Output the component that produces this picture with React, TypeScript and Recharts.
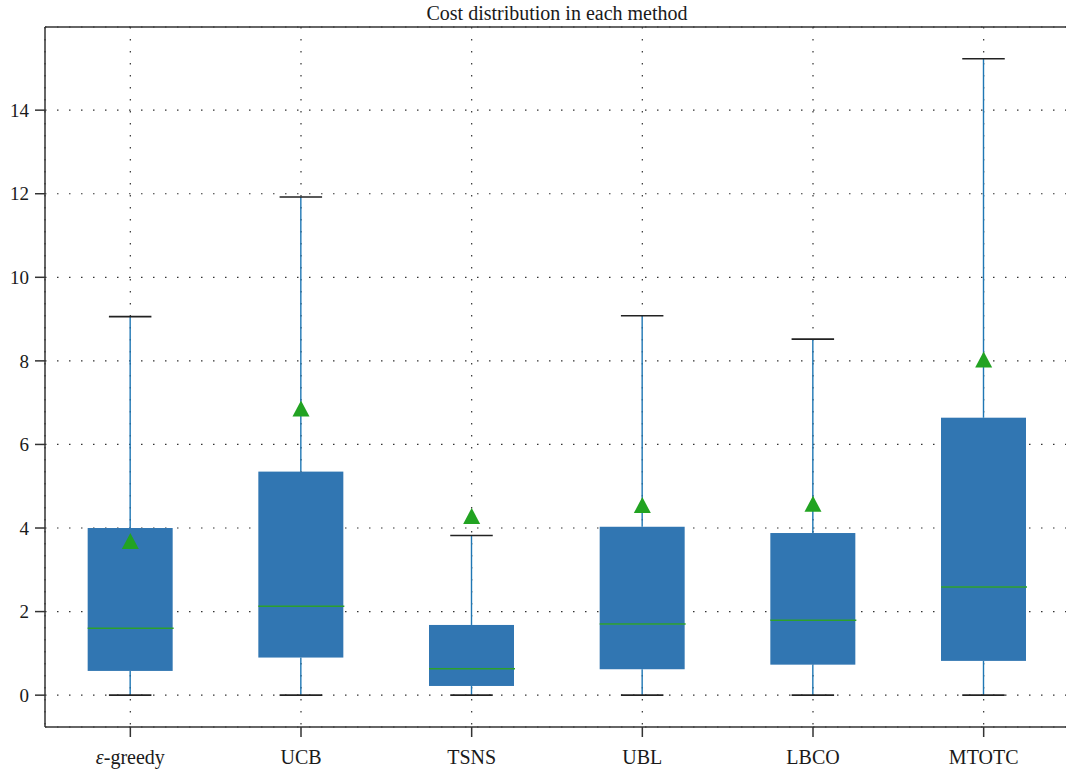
import React from 'react';
import { ComposedChart, Bar, Scatter, XAxis, YAxis, CartesianGrid, ReferenceLine } from 'recharts';

// Per-method cost statistics (whisker low/high, quartiles, median, mean)
const methods = ['ε-greedy', 'UCB', 'TSNS', 'UBL', 'LBCO', 'MTOTC'];
const whiskerLow = [0, 0, 0, 0, 0, 0];
const q1 = [0.58, 0.9, 0.22, 0.62, 0.73, 0.82];
const median = [1.6, 2.13, 0.63, 1.7, 1.79, 2.59];
const q3 = [4.0, 5.35, 1.68, 4.03, 3.88, 6.64];
const whiskerHigh = [9.06, 11.92, 3.82, 9.08, 8.52, 15.23];
const means = [3.69, 6.86, 4.29, 4.55, 4.58, 8.03];

const yTicks = [0, 2, 4, 6, 8, 10, 12, 14];
const Y_MIN = -0.762;
const Y_MAX = 15.99;

const BOX_FILL = '#3176b2';
const WHISKER = '#1f77b4';
const CAP = '#222';
const GREEN = '#2ca02c';
const AXIS = '#333';
const FONT = '"Liberation Serif", "DejaVu Serif", serif';

// stacked segments: base -> lower whisker -> box below median -> box above median -> upper whisker
const data = methods.map((name, i) => ({
  name,
  base: whiskerLow[i],
  lowWhisker: q1[i] - whiskerLow[i],
  boxLow: median[i] - q1[i],
  boxHigh: q3[i] - median[i],
  highWhisker: whiskerHigh[i] - q3[i],
  mean: means[i],
}));

const LowWhisker = (props: any) => {
  const { x, y, width, height } = props;
  const cx = x + width / 2;
  const bottom = y + height;
  return (
    <g>
      <line x1={cx} x2={cx} y1={y} y2={bottom} stroke={WHISKER} strokeWidth={1.4} />
      <line x1={cx - width / 4} x2={cx + width / 4} y1={bottom} y2={bottom} stroke={CAP} strokeWidth={1.6} />
    </g>
  );
};

const HighWhisker = (props: any) => {
  const { x, y, width, height } = props;
  const cx = x + width / 2;
  return (
    <g>
      <line x1={cx} x2={cx} y1={y} y2={y + height} stroke={WHISKER} strokeWidth={1.4} />
      <line x1={cx - width / 4} x2={cx + width / 4} y1={y} y2={y} stroke={CAP} strokeWidth={1.6} />
    </g>
  );
};

const BoxLow = (props: any) => {
  const { x, y, width, height } = props;
  return <rect x={x} y={y} width={width} height={height} fill={BOX_FILL} />;
};

// upper half of the box, with the median line along its bottom edge
const BoxHigh = (props: any) => {
  const { x, y, width, height } = props;
  return (
    <g>
      <rect x={x} y={y} width={width} height={height} fill={BOX_FILL} />
      <line x1={x} x2={x + width + 1} y1={y + height} y2={y + height} stroke={GREEN} strokeWidth={1.5} />
    </g>
  );
};

const MeanMarker = (props: any) => {
  const { cx, cy } = props;
  if (cx == null || cy == null) return null;
  return <polygon points={`${cx},${cy - 8} ${cx - 8.5},${cy + 8} ${cx + 8.5},${cy + 8}`} fill="#22a322" />;
};

const XTick = (props: any) => {
  const { x, y, payload } = props;
  const label: string = payload.value;
  return (
    <text x={x} y={y + 25} textAnchor="middle" fontFamily={FONT} fontSize={20} fill="#1a1a1a">
      {label.startsWith('ε') ? (
        <>
          <tspan fontStyle="italic">ε</tspan>
          <tspan>{label.slice(1)}</tspan>
        </>
      ) : (
        label
      )}
    </text>
  );
};

export default function App() {
  return (
    <div style={{ position: 'absolute', left: 0, top: 0, width: 1066, height: 774, overflow: 'hidden', background: '#fff' }}>
      <div
        style={{
          position: 'absolute',
          left: 0,
          width: 1114,
          top: 2,
          textAlign: 'center',
          fontFamily: FONT,
          fontSize: 20,
          lineHeight: '22px',
          color: '#1a1a1a',
        }}
      >
        Cost distribution in each method
      </div>
      <ComposedChart
        width={1080}
        height={774}
        data={data}
        margin={{ top: 27, right: 11, left: 0, bottom: 0 }}
        barCategoryGap="25%"
      >
        <CartesianGrid stroke="#333" strokeWidth={1.2} strokeDasharray="1.5 10.5" />
        <XAxis
          dataKey="name"
          height={47}
          tickSize={10}
          tick={<XTick />}
          axisLine={{ stroke: AXIS, strokeWidth: 1.5 }}
          tickLine={{ stroke: AXIS, strokeWidth: 1.5 }}
        />
        <YAxis
          type="number"
          width={45}
          domain={[Y_MIN, Y_MAX]}
          allowDataOverflow
          ticks={yTicks}
          tickSize={10}
          tickMargin={6}
          tick={{ fontFamily: FONT, fontSize: 19, fill: '#1a1a1a' }}
          axisLine={{ stroke: AXIS, strokeWidth: 1.5 }}
          tickLine={{ stroke: AXIS, strokeWidth: 1.5 }}
        />
        <ReferenceLine y={Y_MAX} stroke={AXIS} strokeWidth={1.5} />
        <Bar dataKey="base" stackId="box" fill="transparent" isAnimationActive={false} />
        <Bar dataKey="lowWhisker" stackId="box" shape={<LowWhisker />} isAnimationActive={false} />
        <Bar dataKey="boxLow" stackId="box" shape={<BoxLow />} isAnimationActive={false} />
        <Bar dataKey="boxHigh" stackId="box" shape={<BoxHigh />} isAnimationActive={false} />
        <Bar dataKey="highWhisker" stackId="box" shape={<HighWhisker />} isAnimationActive={false} />
        <Scatter dataKey="mean" shape={<MeanMarker />} isAnimationActive={false} />
      </ComposedChart>
    </div>
  );
}
